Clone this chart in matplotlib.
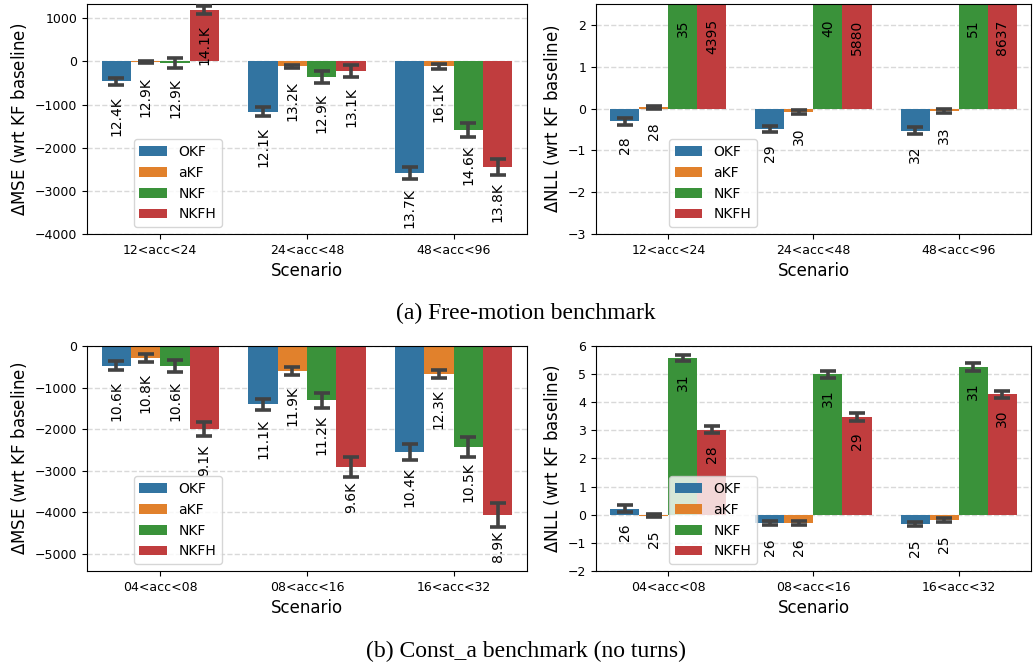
import numpy as np
import matplotlib.pyplot as plt

models = ['OKF', 'aKF', 'NKF', 'NKFH']
colors = ['#3274a1', '#e1812c', '#3a923a', '#c03d3e']

# (a) free-motion benchmark, rows = scenario, cols = model
free_scen = ['12<acc<24', '24<acc<48', '48<acc<96']
free_mse = np.array([[-465, -20, -40, 1186],
                     [-1163, -116, -372, -233],
                     [-2581, -116, -1581, -2442]])
free_mse_err = np.array([[90, 20, 110, 90],
                         [110, 30, 140, 140],
                         [140, 50, 160, 180]])
free_mse_lbl = [['12.4K', '12.9K', '12.9K', '14.1K'],
                ['12.1K', '13.2K', '12.9K', '13.1K'],
                ['13.7K', '16.1K', '14.6K', '13.8K']]
free_nll = np.array([[-0.31, 0.03, 7.0, 4367.0],
                     [-0.48, -0.08, 10.5, 5850.0],
                     [-0.53, -0.06, 18.0, 8604.0]])
free_nll_err = np.array([[0.08, 0.03, 0.5, 50],
                         [0.07, 0.05, 0.5, 50],
                         [0.08, 0.05, 0.5, 50]])
free_nll_lbl = [['28', '28', '35', '4395'],
                ['29', '30', '40', '5880'],
                ['32', '33', '51', '8637']]

# (b) const_a benchmark
const_scen = ['04<acc<08', '08<acc<16', '16<acc<32']
const_mse = np.array([[-480, -280, -480, -2000],
                      [-1400, -600, -1300, -2910],
                      [-2550, -675, -2430, -4070]])
const_mse_err = np.array([[110, 95, 140, 170],
                          [130, 90, 180, 230],
                          [190, 95, 240, 290]])
const_mse_lbl = [['10.6K', '10.8K', '10.6K', '9.1K'],
                 ['11.1K', '11.9K', '11.2K', '9.6K'],
                 ['10.4K', '12.3K', '10.5K', '8.9K']]
const_nll = np.array([[0.22, -0.03, 5.58, 3.02],
                      [-0.3, -0.3, 4.99, 3.47],
                      [-0.33, -0.19, 5.25, 4.28]])
const_nll_err = np.array([[0.12, 0.06, 0.1, 0.13],
                          [0.08, 0.08, 0.12, 0.14],
                          [0.08, 0.08, 0.13, 0.12]])
const_nll_lbl = [['26', '25', '31', '28'],
                 ['26', '26', '31', '29'],
                 ['25', '25', '31', '30']]


def draw(ax, scen, vals, errs, lbls, ylim, yticks, ylabel, leg_x):
    x = np.arange(len(scen))
    w = 0.8 / len(models)
    for j, m in enumerate(models):
        xs = x - 0.4 + w * (j + 0.5)
        ax.bar(xs, vals[:, j], w, color=colors[j], label=m, zorder=2)
        ax.errorbar(xs, vals[:, j], yerr=errs[:, j], fmt='none', ecolor='#424242',
                    elinewidth=2.6, capsize=6, capthick=2.6, zorder=3)
        for i in range(len(scen)):
            ax.annotate(lbls[i][j], (xs[i], min(vals[i, j], ylim[1])), xytext=(0, -11),
                        textcoords='offset points', rotation=90, ha='center', va='top',
                        fontsize=10, zorder=4)
    ax.set_xlim(-0.5, len(scen) - 0.5)
    ax.set_ylim(ylim)
    ax.set_yticks(yticks)
    ax.set_xticks(x)
    ax.set_xticklabels(scen)
    ax.tick_params(labelsize=9)
    ax.set_axisbelow(True)
    ax.grid(axis='y', linestyle='--', color='0.85', lw=1)
    ax.set_xlabel('Scenario', fontsize=12)
    ax.set_ylabel(ylabel, fontsize=12)
    ax.legend(loc='lower left', bbox_to_anchor=(leg_x, 0), fontsize=10)


fig = plt.figure(figsize=(10.34, 6.64), dpi=100)
ax1 = fig.add_axes([0.0841, 0.6476, 0.4255, 0.3464])
ax2 = fig.add_axes([0.5764, 0.6476, 0.4207, 0.3464])
ax3 = fig.add_axes([0.0841, 0.1401, 0.4255, 0.3389])
ax4 = fig.add_axes([0.5764, 0.1401, 0.4207, 0.3389])

draw(ax1, free_scen, free_mse, free_mse_err, free_mse_lbl, (-4000, 1330),
     np.arange(-4000, 1001, 1000), '$\\Delta$MSE (wrt KF baseline)', 0.091)
draw(ax2, free_scen, free_nll, free_nll_err, free_nll_lbl, (-3, 2.5),
     np.arange(-3, 3), '$\\Delta$NLL (wrt KF baseline)', 0.152)
draw(ax3, const_scen, const_mse, const_mse_err, const_mse_lbl, (-5410, 0),
     np.arange(-5000, 1, 1000), '$\\Delta$MSE (wrt KF baseline)', 0.091)
draw(ax4, const_scen, const_nll, const_nll_err, const_nll_lbl, (-2, 6),
     np.arange(-2, 7), '$\\Delta$NLL (wrt KF baseline)', 0.152)

fig.text(0.509, 1 - 313 / 664, '(a) Free-motion benchmark', ha='center', va='center',
         fontsize=17, family='Liberation Serif')
fig.text(0.509, 1 - 651 / 664, '(b) Const_a benchmark (no turns)', ha='center', va='center',
         fontsize=17, family='Liberation Serif')

fig.savefig('out.png', dpi=100)
